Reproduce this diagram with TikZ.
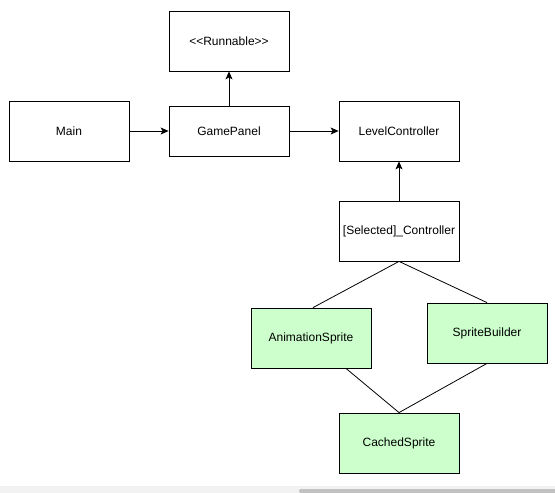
\documentclass[tikz,border=0pt]{standalone}
\usepackage{fontspec}
\setmainfont{Liberation Sans}
\usetikzlibrary{arrows.meta}
\definecolor{spritegreen}{HTML}{CCFFCC}
\definecolor{barlight}{HTML}{F2F2F2}
\definecolor{bardark}{HTML}{C1C1C1}
\begin{document}
\begin{tikzpicture}[x=1pt, y=-1pt,
  classbox/.style={draw, line width=0.8pt, minimum width=120pt, minimum height=60pt, inner sep=0pt, font=\fontsize{12}{14}\selectfont},
  spritebox/.style={classbox, fill=spritegreen},
  link/.style={line width=0.8pt},
  uses/.style={link, -{Stealth[length=8pt, width=7pt, inset=2pt]}}]
\useasboundingbox (0,0) rectangle (555,493); % page size
\fill[barlight] (0,486) rectangle (555,493); % scroll bar track
\fill[bardark, rounded corners=2pt] (299,489) rectangle (560,493); % scroll bar thumb
\node[classbox] (runnable) at (229,41) {<\kern0pt<Runnable>\kern0pt>}; % interface
\node[classbox] (main) at (69,131) {Main}; % entry point
\node[classbox, minimum height=50pt] (gamepanel) at (229,131) {GamePanel}; % panel
\node[classbox] (levelctrl) at (399,131) {LevelController}; % level controller
\node[classbox] (selctrl) at (399,231) {[Selected]\_Controller}; % chosen controller
\node[spritebox] (animsprite) at (311,338) {AnimationSprite}; % sprite
\node[spritebox] (spritebuilder) at (487,333) {SpriteBuilder}; % builder
\node[spritebox] (cachedsprite) at (399,443) {CachedSprite}; % cache
\draw[uses] (main) -- (gamepanel); % main to panel
\draw[uses] (gamepanel) -- (levelctrl); % panel to level
\draw[uses] (gamepanel) -- (runnable); % panel implements
\draw[uses] (selctrl) -- (levelctrl); % selected to level
\draw[link] (selctrl.south) -- ([xshift=2pt]animsprite.north); % to animation
\draw[link] (selctrl.south) -- (spritebuilder.north); % to builder
\draw[link] ([xshift=35pt]animsprite.south) -- (cachedsprite.north); % animation to cache
\draw[link] (spritebuilder.south) -- (cachedsprite.north); % builder to cache
\end{tikzpicture}
\end{document}
